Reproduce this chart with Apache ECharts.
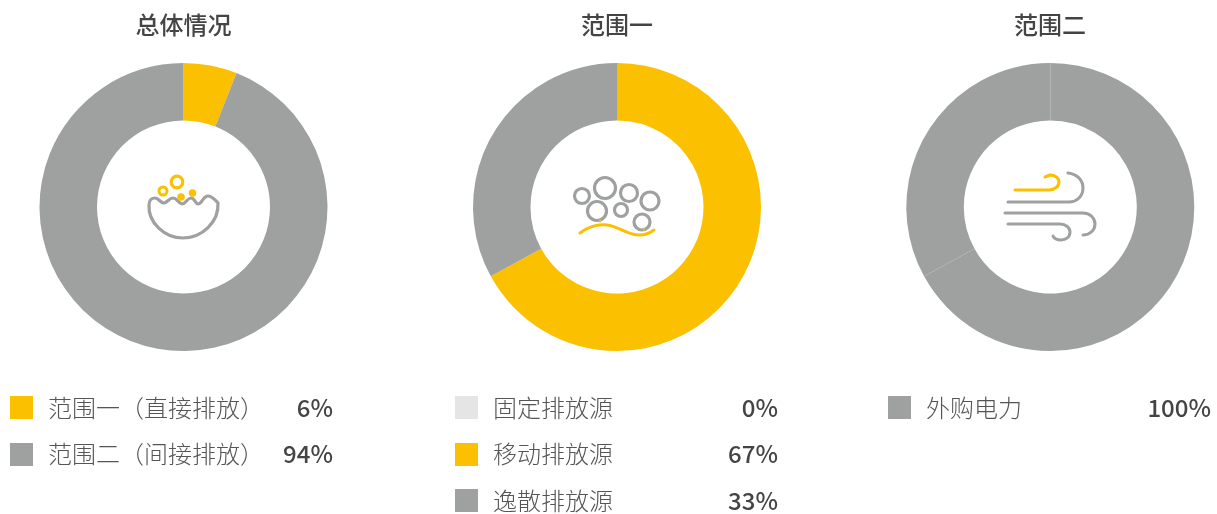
<!DOCTYPE html>
<html><head><meta charset="utf-8">
<style>html,body{margin:0;padding:0;background:#fff}#c{width:1217px;height:514px}</style>
<script src="https://cdn.jsdelivr.net/npm/echarts@6/dist/echarts.min.js"></script>
</head><body><div id="c"></div>
<script>
const YELLOW='#FBC000', GRAY='#9FA1A0', LIGHT='#E5E5E5';
const titles=['总体情况','范围一','范围二'];
const overallNames=['范围一（直接排放）','范围二（间接排放）'];
const overallValues=[6,94];
const overallColors=[YELLOW,GRAY];
const scope1Names=['固定排放源','移动排放源','逸散排放源'];
const scope1Values=[0,67,33];
const scope1Colors=[LIGHT,YELLOW,GRAY];
const scope2Names=['外购电力'];
const scope2Values=[100];
const scope2Colors=[GRAY];
// the third ring is drawn in two equal-coloured pieces in the reference (hairline seams visible)
const scope2RingPieces=[67,33];
const scope2RingColors=[GRAY,GRAY];

const centerX=[183.5,617,1050.3];
const FONT='"Noto Sans CJK SC","Noto Sans",sans-serif';
function ring(cx,data,colors){
  return {type:'pie',center:[cx,207],radius:[86.5,144],startAngle:90,clockwise:true,silent:true,
    label:{show:false},labelLine:{show:false},emphasis:{disabled:true},
    itemStyle:{borderWidth:0},
    data:data.map((v,i)=>({value:v,itemStyle:{color:colors[i]}}))};
}
const g=[];
function legend(names,values,colors,sx,tx,rx){
  const ys=[408,454,501];
  names.forEach((n,i)=>{
    g.push({type:'rect',shape:{x:sx,y:[396,443,489][i],width:23,height:23},style:{fill:colors[i]},silent:true});
    g.push({type:'text',x:tx,y:ys[i],style:{text:n,font:'300 24px '+FONT,fill:'#555',textVerticalAlign:'middle',textAlign:'left'},silent:true});
    g.push({type:'text',x:rx,y:ys[i],style:{text:values[i]+'%',font:'500 24px '+FONT,fill:'#444',textVerticalAlign:'middle',textAlign:'right'},silent:true});
  });
}
legend(overallNames,overallValues,overallColors,10,48,333);
legend(scope1Names,scope1Values,scope1Colors,455,493,778);
legend(scope2Names,scope2Values,scope2Colors,888,926,1211);

let pathId=0;
function stroke(d,c,w){
  const name='iconPath'+(pathId++);
  echarts.graphic.registerShape(name,echarts.graphic.extendPath(d,{}));
  g.push({type:name,style:{fill:null,stroke:c,lineWidth:w||3.2,lineCap:'round',lineJoin:'round'},silent:true});
}
function circ(x,y,r,c,w){g.push({type:'circle',shape:{cx:x,cy:y,r:r},style:{fill:'none',stroke:c,lineWidth:w||3.2},silent:true});}
function dot(x,y,r,c){g.push({type:'circle',shape:{cx:x,cy:y,r:r},style:{fill:c},silent:true});}
// icon 1: bowl
stroke('M149 205 C149 200 152 198 155 198 C159 198 160 203 164 203 C167 203 169 198 173 198 C177 198 178 203 182 204 C186 204 187 198 191 198 C195 198 195 204 198 204 C202 204 203 196 208 196 C212 196 215 200 218 203 C219 222 202 238 183 238 C164 238 148 222 149 205 Z',GRAY,3.2);
circ(177,182,5.8,YELLOW,3.2);circ(163,191,4,YELLOW,3);dot(181,197,3.8,YELLOW);dot(192.5,193,3.8,YELLOW);
// icon 2: particles
[[582,196,7.5],[605,188,10.5],[629,193,8.5],[650,201,9],[597,211,9.5],[621,210,6.5],[642,222,8]].forEach(c=>circ(c[0],c[1],c[2],GRAY,3.2));
stroke('M580 233 C588 227 598 224 607 225 C618 226 625 234 638 235 C645 235.5 650 233 654 230',YELLOW,3);
stroke('M600 220 V222',YELLOW,1.5);stroke('M644 228 V230',YELLOW,1.5);
// icon 3: wind
stroke('M1015 190 H1049 C1055 190 1059 186 1059 182 C1059 178 1055 175 1050 175 L1045 177',YELLOW,3);
stroke('M1008 202 H1069 C1077 202 1083 196 1083 188 C1083 180 1077 174 1068 173',GRAY,3);
stroke('M1005 213 H1083 C1090 213 1095 218 1095 224 C1095 230 1090 235 1083 235',GRAY,3);
stroke('M1008 224 H1060 C1066 224 1070 228 1070 232 C1070 237 1066 240 1061 240 C1057 240 1054 238 1053 236',GRAY,3);

const chart=echarts.init(document.getElementById('c'),null,{renderer:'canvas'});
chart.setOption({
  backgroundColor:'#fff',animation:false,
  title:titles.map((t,i)=>({text:t,left:[183.5,617,1050][i],top:10,padding:0,textAlign:'center',
    textStyle:{fontFamily:FONT,fontSize:24,fontWeight:500,color:'#444',lineHeight:30}})),
  series:[ring(centerX[0],overallValues,overallColors),ring(centerX[1],scope1Values,scope1Colors),ring(centerX[2],scope2RingPieces,scope2RingColors)],
  graphic:g
});
</script></body></html>
